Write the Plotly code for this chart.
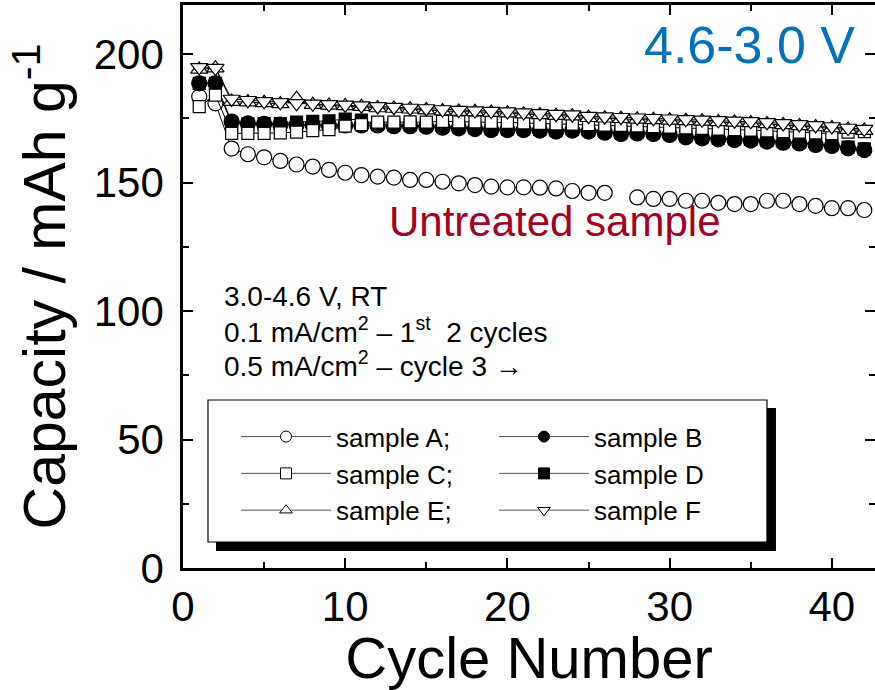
import plotly.graph_objects as go

cycles = list(range(1, 43))

sample_A = [183.4, 180.8, 163.2, 161.0, 159.8, 158.4, 157.0, 156.2, 154.9, 153.8,
            152.9, 152.3, 151.9, 151.0, 151.0, 150.3, 149.7, 149.0, 148.4, 148.1,
            148.1, 148.0, 147.7, 146.7, 146.0, 146.0, None, 144.2, 143.6, 143.6,
            142.9, 142.9, 142.1, 141.6, 141.6, 142.9, 142.9, 141.6, 140.9, 140.0,
            140.0, 139.3]
sample_B = [188.6, 188.6, 173.7, 173.0, 172.8, 172.5, 172.4, 172.3, 172.2, 172.2,
            172.2, 172.2, 171.9, 171.9, 171.7, 171.3, 171.1, 170.8, 170.4, 170.4,
            170.4, 170.2, 169.8, 170.2, 169.8, 169.4, 168.9, 169.1, 168.9, 168.5,
            167.6, 167.2, 166.8, 166.5, 166.3, 165.9, 165.5, 165.2, 164.6, 164.2,
            163.3, 162.6]
sample_C = [179.5, 184.0, 169.1, 169.1, 169.1, 169.3, 169.6, 170.2, 170.6, 171.9,
            172.5, 173.5, 173.5, 173.6, 173.5, 173.8, 173.6, 173.6, 173.4, 173.4,
            173.2, 173.0, 172.8, 172.7, 172.5, 172.3, 172.2, 172.0, 171.8, 171.6,
            171.3, 171.1, 170.8, 170.6, 170.4, 170.1, 169.8, 169.6, 169.3, 169.0,
            169.6, 169.8]
sample_D = [188.6, 188.6, 172.8, 172.8, 172.9, 172.9, 173.5, 173.8, 174.0, 174.7,
            174.3, 172.7, 172.4, 172.4, 172.2, 171.8, 171.6, 171.3, 170.9, 170.9,
            170.9, 170.7, 170.3, 170.7, 170.3, 169.9, 169.4, 169.6, 169.4, 169.0,
            168.1, 167.7, 167.3, 167.0, 166.8, 166.4, 166.0, 165.7, 165.1, 164.7,
            163.8, 163.1]
sample_E = [194.0, 194.5, 181.5, 181.3, 181.0, 180.6, 182.6, 180.3, 180.0, 179.8,
            179.5, 179.0, 178.8, 178.5, 178.2, 177.8, 177.6, 177.5, 177.2, 177.0,
            176.6, 176.3, 176.0, 175.8, 175.2, 175.0, 174.8, 174.6, 174.4, 174.2,
            174.0, 173.8, 173.6, 173.4, 173.2, 172.8, 172.4, 172.0, 171.6, 171.2,
            170.6, 170.2]
sample_F = [194.8, 194.5, 182.5, 182.0, 181.6, 181.2, 180.8, 180.6, 180.4, 180.2,
            179.9, 179.6, 179.3, 179.0, 178.8, 178.4, 178.2, 178.0, 177.8, 177.6,
            177.2, 176.9, 176.6, 176.4, 175.8, 175.6, 175.4, 175.2, 175.0, 174.8,
            174.6, 174.4, 174.2, 174.0, 173.8, 173.4, 173.0, 172.6, 172.2, 171.8,
            171.2, 170.8]

x_ticks = [0, 10, 20, 30, 40]
y_ticks = [0, 50, 100, 150, 200]

FONT = "Liberation Sans, Arial, sans-serif"

# (legend name, values, symbol, filled, plot marker size, legend rank)
series = {
    "A": ("sample A;", sample_A, "circle", False, 15, 1),
    "B": ("sample B", sample_B, "circle", True, 15, 2),
    "C": ("sample C;", sample_C, "square", False, 12, 3),
    "D": ("sample D", sample_D, "square", True, 12, 4),
    "E": ("sample E;", sample_E, "triangle-up", False, 15, 5),
    "F": ("sample F", sample_F, "triangle-down", False, 15, 6),
}
draw_order = ["A", "B", "D", "C", "E", "F"]
legend_order = ["A", "B", "C", "D", "E", "F"]

fig = go.Figure()
for key in draw_order:
    name, vals, sym, filled, size, rank = series[key]
    fig.add_trace(go.Scatter(
        x=cycles, y=vals, name=name, mode="lines+markers", showlegend=False,
        line=dict(color="black", width=1),
        marker=dict(symbol=sym, size=size, color="black" if filled else "white",
                    line=dict(color="black", width=1.2)),
        connectgaps=False,
    ))

# legend entries (smaller symbols, thin grey line like the original)
for key in legend_order:
    name, vals, sym, filled, size, rank = series[key]
    fig.add_trace(go.Scatter(
        x=[None], y=[None], name=name, mode="lines+markers", legendrank=rank,
        line=dict(color="#555555", width=1),
        marker=dict(symbol=sym, size=11, color="black" if filled else "white",
                    line=dict(color="black", width=1)),
    ))

# legend box and shadow (paper coords)
fig.add_shape(type="rect", xref="paper", yref="paper",
              x0=0.0477, x1=0.8569, y0=0.0302, y1=0.2842,
              fillcolor="black", line=dict(width=0), layer="above")
fig.add_shape(type="rect", xref="paper", yref="paper",
              x0=0.0361, x1=0.8439, y0=0.0462, y1=0.2984,
              fillcolor="white", line=dict(color="black", width=1.2), layer="above")

fig.add_annotation(text="4.6-3.0 V", xref="paper", yref="paper", x=0.819, y=0.929,
                   xanchor="center", yanchor="middle",
                   showarrow=False, font=dict(family=FONT, size=52, color="#0070C0"))
fig.add_annotation(text="Untreated sample", xref="paper", yref="paper", x=0.5376, y=0.6146,
                   xanchor="center", yanchor="middle",
                   showarrow=False, font=dict(family=FONT, size=42, color="#A50021"))

note_lines = ["3.0-4.6 V, RT",
              "0.1 mA/cm<sup>2</sup> – 1<sup>st</sup>  2 cycles",
              "0.5 mA/cm<sup>2</sup> – cycle 3 →"]
note_y_px = [296, 330, 364]
for txt, ypx in zip(note_lines, note_y_px):
    fig.add_annotation(text=txt, xref="paper", yref="paper",
                       x=(222 - 183) / 692, y=(568 - ypx) / 563,
                       xanchor="left", yanchor="middle", align="left", showarrow=False,
                       font=dict(family=FONT, size=28, color="black"))

axis_common = dict(
    showline=True, linecolor="black", linewidth=2.5, mirror="allticks",
    ticks="inside", ticklen=10, tickwidth=2, tickcolor="black",
    showgrid=False, zeroline=False,
    tickfont=dict(family=FONT, size=42, color="black"),
)

fig.update_xaxes(
    range=[0, 42.66], tickvals=x_ticks,
    minor=dict(dtick=5, ticks="inside", ticklen=6, tickwidth=2, tickcolor="black"),
    title=dict(text="Cycle Number", font=dict(family=FONT, size=58, color="black"), standoff=0),
    ticklabelstandoff=0,
    **axis_common,
)
fig.update_yaxes(
    range=[0, 219.07], tickvals=y_ticks,
    minor=dict(dtick=25, ticks="inside", ticklen=6, tickwidth=2, tickcolor="black"),
    title=dict(text="Capacity / mAh g<sup>-1</sup>", font=dict(family=FONT, size=59, color="black"), standoff=10),
    ticklabelstandoff=8,
    **axis_common,
)

fig.update_layout(
    width=875, height=690,
    margin=dict(l=183, r=0, t=5, b=122, autoexpand=False),
    paper_bgcolor="white", plot_bgcolor="white",
    showlegend=True,
    legend=dict(
        orientation="h", x=(236 - 183) / 692, y=0.275, xanchor="left", yanchor="top",
        bgcolor="rgba(0,0,0,0)", borderwidth=0,
        entrywidth=153, itemwidth=90, itemsizing="trace",
        font=dict(family=FONT, size=26, color="black"),
        traceorder="normal",
    ),
)

fig.write_html("out.html")
